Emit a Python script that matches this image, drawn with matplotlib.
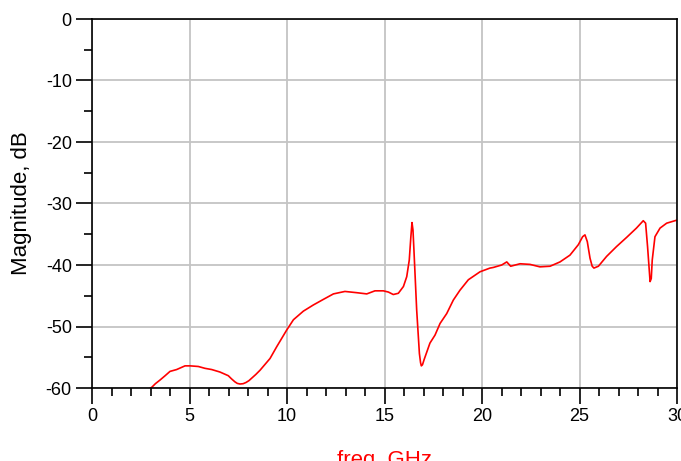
import matplotlib.pyplot as plt
from matplotlib.ticker import MultipleLocator

plt.rcParams['font.family'] = ['Liberation Sans', 'DejaVu Sans']
plt.rcParams['axes.unicode_minus'] = False

# S-parameter magnitude trace, freq in GHz / magnitude in dB
freq = [3.0, 3.06, 3.25, 3.49, 3.75, 4.0, 4.34, 4.77, 5.03, 5.45, 5.79, 6.14,
        6.56, 6.99, 7.15, 7.33, 7.45, 7.59, 7.75, 7.9, 8.05, 8.19, 8.4, 8.62,
        9.13, 9.47, 9.98, 10.33, 10.84, 11.35, 11.86, 12.38, 12.97, 13.57,
        14.09, 14.51, 14.94, 15.2, 15.45, 15.71, 15.97, 16.14, 16.27, 16.35,
        16.41, 16.46, 16.51, 16.65, 16.79, 16.85, 16.89, 16.95, 17.03, 17.33,
        17.59, 17.85, 18.19, 18.53, 18.87, 19.3, 19.9, 20.41, 20.58, 21.01,
        21.27, 21.47, 21.95, 22.46, 22.97, 23.49, 24.0, 24.51, 24.94, 25.16,
        25.28, 25.4, 25.54, 25.65, 25.74, 25.97, 26.39, 26.9, 27.42, 27.92,
        28.27, 28.39, 28.49, 28.62, 28.68, 28.73, 28.87, 29.13, 29.47, 30.0]
mag = [-60.0, -59.9, -59.3, -58.7, -58.0, -57.3, -57.0, -56.4, -56.4, -56.5,
       -56.8, -57.0, -57.4, -58.0, -58.5, -59.0, -59.25, -59.35, -59.3, -59.1,
       -58.8, -58.4, -57.8, -57.1, -55.2, -53.3, -50.6, -48.9, -47.5, -46.5,
       -45.6, -44.7, -44.3, -44.5, -44.7, -44.2, -44.2, -44.4, -44.8, -44.6,
       -43.5, -41.9, -39.2, -35.5, -33.1, -34.3, -37.6, -47.3, -54.4, -55.9,
       -56.4, -56.2, -55.4, -52.7, -51.4, -49.5, -47.9, -45.7, -44.1, -42.4,
       -41.1, -40.5, -40.4, -40.0, -39.5, -40.2, -39.8, -39.9, -40.3, -40.2,
       -39.5, -38.4, -36.7, -35.4, -35.1, -36.2, -38.9, -40.2, -40.5, -40.2,
       -38.6, -37.0, -35.5, -34.0, -32.8, -33.2, -37.0, -42.7, -42.2, -39.2,
       -35.4, -34.0, -33.2, -32.7]

fig = plt.figure(figsize=(6.81, 4.61), dpi=100)
ax = fig.add_axes([92/681, 1 - 388/461, 585/681, 369/461])

ax.plot(freq, mag, color='#ff0000', lw=1.2)

ax.set_xlim(0, 30)
ax.set_ylim(-60, 0)
ax.xaxis.set_major_locator(MultipleLocator(5))
ax.xaxis.set_minor_locator(MultipleLocator(1))
ax.yaxis.set_major_locator(MultipleLocator(10))
ax.yaxis.set_minor_locator(MultipleLocator(5))
ax.grid(True, which='major', color='#c4c4c4', lw=1.3)
ax.set_axisbelow(True)

ax.tick_params(which='major', length=11.5, width=1.2, labelsize=13, pad=3)
ax.tick_params(which='minor', length=6, width=1.2)
for s in ax.spines.values():
    s.set_color('black')
    s.set_linewidth(1.2)

ax.set_ylabel('Magnitude, dB', fontsize=16, labelpad=10)
ax.set_xlabel('freq, GHz', fontsize=16, color='#ff0000', labelpad=18)

fig.savefig('out.png', dpi=100)
